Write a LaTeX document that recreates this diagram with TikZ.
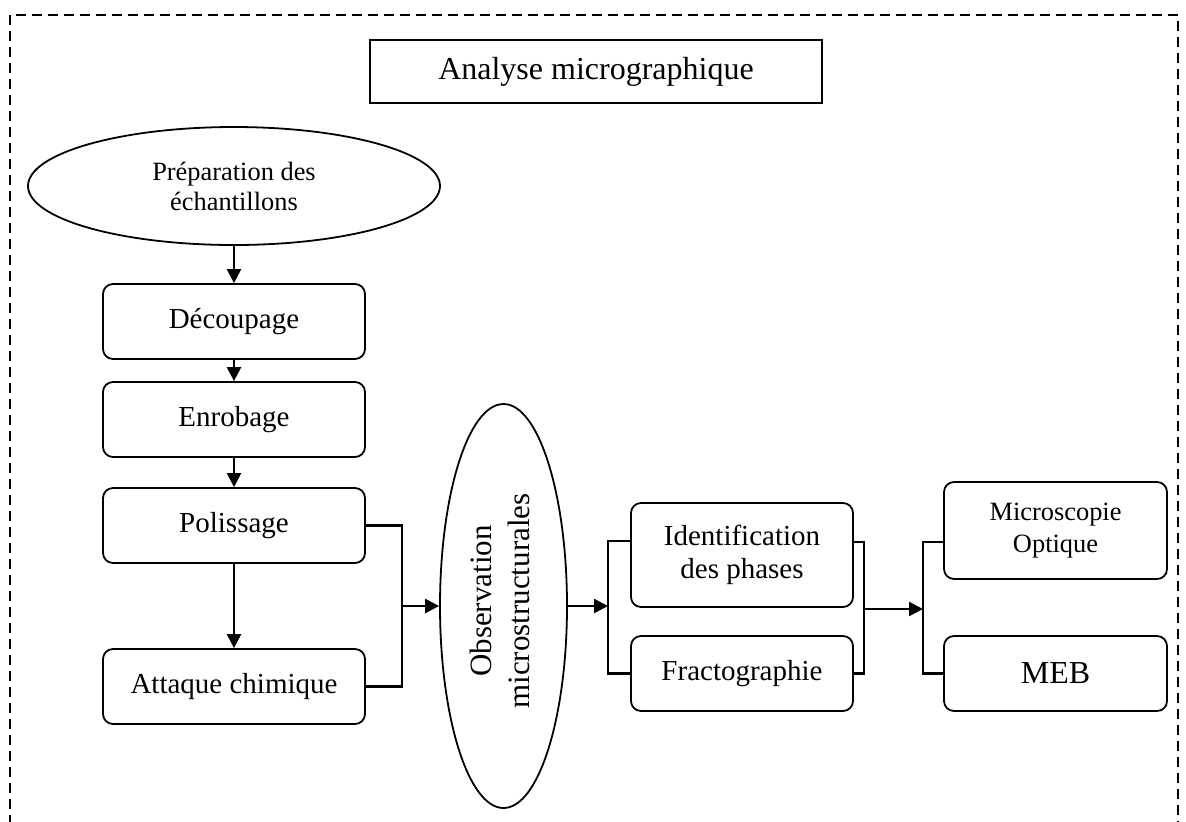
\documentclass[tikz,border=0pt]{standalone}
\usepackage{fontspec}
\setmainfont{Liberation Serif}
\usetikzlibrary{shapes.geometric,arrows.meta}
\begin{document}
\begin{tikzpicture}[x=0.5pt,y=-0.5pt,
  rbox/.style={draw,line width=0.9pt,rounded corners=5pt,minimum width=131pt,minimum height=37.5pt,inner sep=0pt,align=center,font=\fontsize{14.5}{16.5}\selectfont},
  oval/.style={draw,line width=0.9pt,ellipse,inner sep=0pt,align=center},
  arr/.style={line width=1.2pt,-{Triangle[length=7pt,width=7pt]}},
  conn/.style={line width=1.1pt},
  border/.style={line width=0.8pt,dash pattern=on 5pt off 3pt}
]
\useasboundingbox (0,0) rectangle (1186,821);
% border
\draw[border] (10,825) -- (10,15) -- (1178,15) -- (1178,825);
% title
\node[draw,line width=0.9pt,minimum width=226pt,minimum height=31.5pt,inner sep=0pt,font=\fontsize{16}{18}\selectfont] (title) at (596,71.5) {Analyse micrographique};
% left column
\node[oval,minimum width=206pt,minimum height=59pt,font=\fontsize{13.2}{15}\selectfont] (prep) at (234,186) {Préparation des\\échantillons};
\node[rbox] (dec) at (234,321.5) {Découpage};
\node[rbox] (enr) at (234,419.5) {Enrobage};
\node[rbox] (pol) at (234,525.5) {Polissage};
\node[rbox] (att) at (234,686.5) {Attaque chimique};
% observation ellipse
\node[oval,minimum width=63.5pt,minimum height=202pt] (obs) at (503.5,606) {};
\node[rotate=90,align=center,inner sep=0pt,font=\fontsize{15.5}{19}\selectfont] (obstxt) at (500,601) {Observation\\microstructurales};
% middle column
\node[rbox,minimum width=111pt,minimum height=52pt] (ident) at (742,555) {Identification\\des phases};
\node[rbox,minimum width=111pt] (fracto) at (742,673.5) {Fractographie};
% right column
\node[rbox,minimum width=111.5pt,minimum height=48.5pt,font=\fontsize{13.2}{16}\selectfont] (micro) at (1055.5,530.5) {Microscopie\\Optique};
\node[rbox,minimum width=111.5pt,font=\fontsize{16}{18}\selectfont] (meb) at (1055.5,673.5) {MEB};
% junction coordinates
\coordinate (brL) at (402,606);
\coordinate (brM) at (608,606);
\coordinate (brR) at (864,609);
\coordinate (brS) at (923,609);
% vertical arrows
\draw[arr] (prep.south) -- (dec.north);
\draw[arr] (dec.south) -- (enr.north);
\draw[arr] (enr.south) -- (pol.north);
\draw[arr] (pol.south) -- (att.north);
% brackets
\draw[conn] (pol.east) -| (brL) |- (att.east);
\draw[arr] (brL) -- (obs.west);
\draw[arr] (obs.east) -- (brM);
\draw[conn] ([yshift=7pt]ident.west) -| (brM) |- (fracto.west);
\draw[conn] ([yshift=6.5pt]ident.east) -| (brR) |- (fracto.east);
\draw[arr] (brR) -- (brS);
\draw[conn] ([yshift=-5.75pt]micro.west) -| (brS) |- (meb.west);
\end{tikzpicture}
\end{document}
